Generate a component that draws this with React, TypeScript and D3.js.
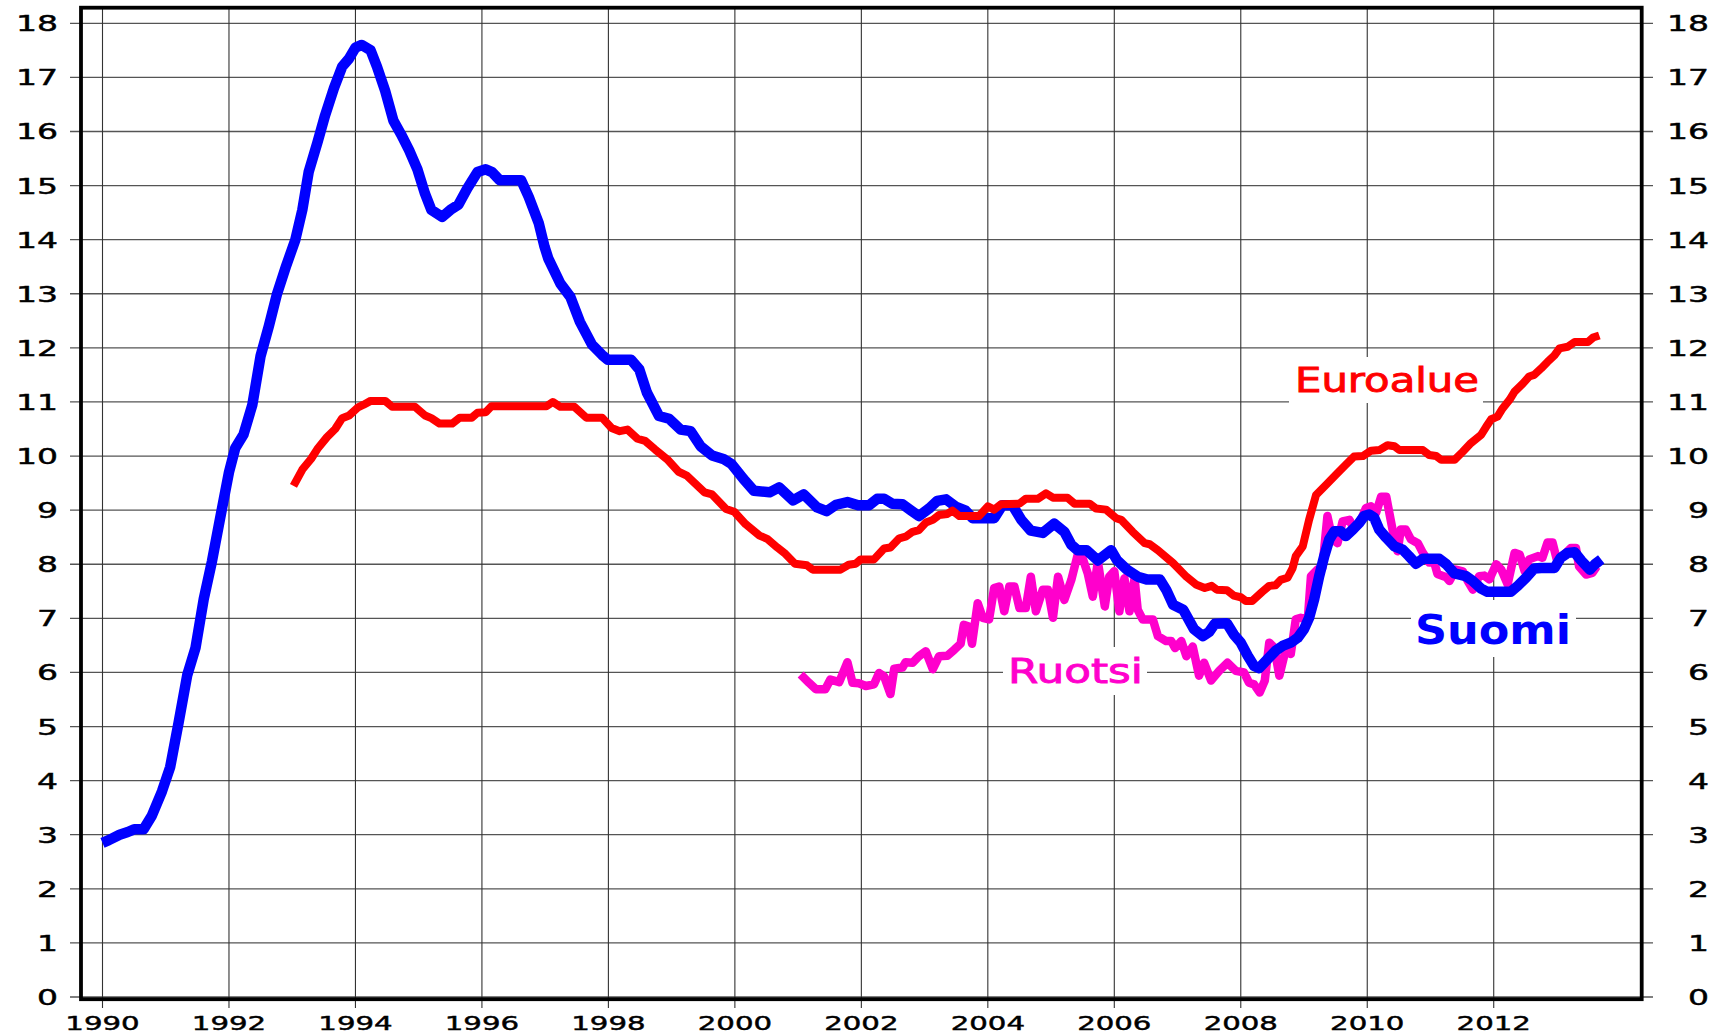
import React from "react";
import * as d3 from "d3";

// ---- data (year, value) ----
const suomi: [number, number][] = [
  [1990.0, 2.85], [1990.1, 2.9], [1990.27, 3.0], [1990.4, 3.05], [1990.5, 3.1], [1990.65, 3.1],
  [1990.78, 3.35], [1990.94, 3.8], [1991.07, 4.25], [1991.2, 5.05], [1991.34, 5.95], [1991.47, 6.45],
  [1991.6, 7.35], [1991.73, 8.05], [1991.86, 8.85], [1992.0, 9.7], [1992.1, 10.15], [1992.23, 10.4],
  [1992.37, 10.95], [1992.5, 11.85], [1992.63, 12.4], [1992.76, 13.0], [1992.9, 13.5], [1993.05, 14.0],
  [1993.16, 14.55], [1993.26, 15.25], [1993.4, 15.8], [1993.52, 16.3], [1993.66, 16.8], [1993.79, 17.2],
  [1993.9, 17.35], [1994.0, 17.55], [1994.1, 17.6], [1994.24, 17.5], [1994.34, 17.2], [1994.47, 16.75],
  [1994.6, 16.2], [1994.72, 15.95], [1994.85, 15.65], [1994.98, 15.3], [1995.1, 14.85], [1995.2, 14.55],
  [1995.37, 14.42], [1995.5, 14.55], [1995.63, 14.65], [1995.77, 14.95], [1995.93, 15.25], [1996.06, 15.3],
  [1996.16, 15.25], [1996.28, 15.1], [1996.62, 15.1], [1996.74, 14.79], [1996.9, 14.3], [1996.99, 13.87],
  [1997.05, 13.65], [1997.24, 13.19], [1997.4, 12.94], [1997.55, 12.48], [1997.74, 12.06], [1997.9, 11.87],
  [1997.99, 11.78], [1998.36, 11.78], [1998.49, 11.6], [1998.61, 11.17], [1998.8, 10.74], [1998.96, 10.69],
  [1999.14, 10.49], [1999.3, 10.46], [1999.46, 10.18], [1999.64, 10.01], [1999.83, 9.94], [1999.95, 9.85],
  [2000.14, 9.57], [2000.3, 9.36], [2000.55, 9.33], [2000.7, 9.42], [2000.92, 9.18], [2001.09, 9.29],
  [2001.3, 9.05], [2001.45, 8.98], [2001.6, 9.1], [2001.78, 9.15], [2001.95, 9.09], [2002.12, 9.09],
  [2002.25, 9.21], [2002.36, 9.21], [2002.49, 9.12], [2002.65, 9.11], [2002.78, 9.0], [2002.91, 8.89],
  [2003.07, 9.03], [2003.2, 9.17], [2003.34, 9.2], [2003.5, 9.06], [2003.65, 8.99], [2003.76, 8.85],
  [2004.1, 8.85], [2004.23, 9.09], [2004.39, 9.09], [2004.53, 8.82], [2004.68, 8.62], [2004.87, 8.58],
  [2005.05, 8.75], [2005.21, 8.6], [2005.32, 8.36], [2005.42, 8.26], [2005.56, 8.26], [2005.74, 8.07],
  [2005.95, 8.26], [2006.04, 8.08], [2006.2, 7.9], [2006.37, 7.77], [2006.51, 7.72], [2006.72, 7.72],
  [2006.82, 7.53], [2006.93, 7.25], [2007.09, 7.16], [2007.26, 6.8], [2007.4, 6.67], [2007.5, 6.75],
  [2007.59, 6.9], [2007.78, 6.91], [2007.89, 6.7], [2008.0, 6.55], [2008.11, 6.31], [2008.21, 6.12],
  [2008.29, 6.08], [2008.42, 6.24], [2008.55, 6.4], [2008.66, 6.49], [2008.79, 6.55], [2008.9, 6.64],
  [2009.0, 6.8], [2009.08, 7.01], [2009.16, 7.35], [2009.24, 7.78], [2009.32, 8.15], [2009.4, 8.46],
  [2009.48, 8.61], [2009.58, 8.61], [2009.66, 8.52], [2009.77, 8.64], [2009.87, 8.76], [2009.95, 8.89],
  [2010.03, 8.92], [2010.11, 8.86], [2010.19, 8.64], [2010.3, 8.49], [2010.43, 8.33], [2010.56, 8.27],
  [2010.66, 8.15], [2010.77, 8.01], [2010.88, 8.1], [2011.14, 8.1], [2011.25, 8.0], [2011.38, 7.83],
  [2011.56, 7.78], [2011.67, 7.69], [2011.8, 7.55], [2011.9, 7.49], [2012.27, 7.49], [2012.38, 7.6],
  [2012.51, 7.75], [2012.64, 7.92], [2012.75, 7.93], [2012.96, 7.93], [2013.06, 8.12], [2013.17, 8.21],
  [2013.28, 8.22], [2013.39, 8.06], [2013.52, 7.9], [2013.6, 8.0], [2013.7, 8.09],
];

const euroalue: [number, number][] = [
  [1993.02, 9.45], [1993.16, 9.75], [1993.3, 9.95], [1993.41, 10.15], [1993.55, 10.35], [1993.68, 10.5],
  [1993.79, 10.7], [1993.9, 10.75], [1994.04, 10.9], [1994.13, 10.95], [1994.24, 11.02], [1994.47, 11.02],
  [1994.58, 10.91], [1994.94, 10.91], [1995.1, 10.75], [1995.2, 10.7], [1995.33, 10.6], [1995.53, 10.6],
  [1995.65, 10.71], [1995.84, 10.71], [1995.93, 10.8], [1996.06, 10.81], [1996.15, 10.92], [1997.02, 10.92],
  [1997.12, 11.0], [1997.24, 10.91], [1997.46, 10.91], [1997.65, 10.71], [1997.9, 10.71], [1998.05, 10.52],
  [1998.18, 10.46], [1998.3, 10.49], [1998.46, 10.32], [1998.58, 10.28], [1998.74, 10.12], [1998.93, 9.94],
  [1999.11, 9.71], [1999.24, 9.64], [1999.52, 9.33], [1999.64, 9.29], [1999.86, 9.02], [1999.99, 8.97],
  [2000.17, 8.74], [2000.39, 8.53], [2000.51, 8.47], [2000.67, 8.31], [2000.8, 8.19], [2000.95, 8.01],
  [2001.14, 7.98], [2001.23, 7.9], [2001.67, 7.9], [2001.8, 7.99], [2001.91, 8.01], [2001.99, 8.09],
  [2002.2, 8.09], [2002.36, 8.29], [2002.46, 8.31], [2002.6, 8.48], [2002.7, 8.51], [2002.81, 8.6],
  [2002.91, 8.63], [2003.02, 8.77], [2003.13, 8.82], [2003.23, 8.91], [2003.36, 8.93], [2003.44, 8.99],
  [2003.55, 8.89], [2003.86, 8.89], [2004.0, 9.07], [2004.1, 9.01], [2004.21, 9.11], [2004.5, 9.12],
  [2004.6, 9.21], [2004.79, 9.21], [2004.92, 9.31], [2005.03, 9.23], [2005.26, 9.23], [2005.37, 9.12],
  [2005.61, 9.12], [2005.71, 9.03], [2005.87, 9.01], [2006.03, 8.85], [2006.11, 8.82], [2006.29, 8.6],
  [2006.48, 8.39], [2006.56, 8.37], [2006.69, 8.26], [2006.93, 8.02], [2007.14, 7.77], [2007.3, 7.62],
  [2007.43, 7.56], [2007.54, 7.6], [2007.62, 7.53], [2007.78, 7.52], [2007.89, 7.42], [2008.0, 7.39],
  [2008.08, 7.32], [2008.18, 7.32], [2008.34, 7.49], [2008.45, 7.6], [2008.55, 7.61], [2008.63, 7.71],
  [2008.74, 7.75], [2008.82, 7.93], [2008.87, 8.15], [2008.98, 8.33], [2009.08, 8.82], [2009.19, 9.28],
  [2009.35, 9.47], [2009.5, 9.65], [2009.66, 9.84], [2009.79, 9.99], [2009.93, 10.0], [2010.06, 10.1],
  [2010.19, 10.11], [2010.32, 10.2], [2010.43, 10.18], [2010.51, 10.11], [2010.88, 10.11], [2010.98, 10.02],
  [2011.09, 10.0], [2011.17, 9.93], [2011.38, 9.93], [2011.51, 10.08], [2011.64, 10.24], [2011.8, 10.39],
  [2011.88, 10.54], [2011.96, 10.68], [2012.06, 10.73], [2012.14, 10.88], [2012.25, 11.04], [2012.33, 11.19],
  [2012.46, 11.34], [2012.56, 11.47], [2012.64, 11.5], [2012.75, 11.62], [2012.85, 11.74], [2012.96, 11.86],
  [2013.04, 11.99], [2013.17, 12.02], [2013.28, 12.11], [2013.49, 12.11], [2013.57, 12.19], [2013.67, 12.23],
];

const ruotsi: [number, number][] = [
  [2001.04, 5.96], [2001.17, 5.81], [2001.28, 5.69], [2001.43, 5.69], [2001.51, 5.87], [2001.65, 5.82],
  [2001.78, 6.19], [2001.86, 5.81], [2001.96, 5.8], [2002.07, 5.75], [2002.2, 5.78], [2002.28, 5.99],
  [2002.36, 5.93], [2002.46, 5.6], [2002.52, 6.07], [2002.65, 6.09], [2002.7, 6.19], [2002.81, 6.18],
  [2002.91, 6.3], [2003.02, 6.39], [2003.13, 6.06], [2003.23, 6.3], [2003.36, 6.31], [2003.47, 6.42],
  [2003.57, 6.53], [2003.62, 6.88], [2003.7, 6.85], [2003.75, 6.53], [2003.84, 7.28], [2003.92, 7.01],
  [2004.02, 6.98], [2004.1, 7.56], [2004.18, 7.59], [2004.26, 7.13], [2004.34, 7.59], [2004.42, 7.59],
  [2004.5, 7.19], [2004.6, 7.19], [2004.68, 7.77], [2004.76, 7.13], [2004.87, 7.53], [2004.95, 7.53],
  [2005.03, 7.01], [2005.11, 7.77], [2005.21, 7.34], [2005.32, 7.71], [2005.42, 8.17], [2005.5, 8.11],
  [2005.58, 7.83], [2005.66, 7.4], [2005.74, 8.05], [2005.85, 7.22], [2005.92, 7.77], [2006.0, 7.87],
  [2006.08, 7.13], [2006.16, 7.74], [2006.24, 7.13], [2006.32, 7.74], [2006.37, 7.16], [2006.45, 6.98],
  [2006.61, 6.98], [2006.69, 6.67], [2006.82, 6.58], [2006.9, 6.58], [2006.96, 6.45], [2007.06, 6.58],
  [2007.14, 6.3], [2007.24, 6.48], [2007.34, 5.94], [2007.42, 6.18], [2007.53, 5.85], [2007.66, 6.03],
  [2007.79, 6.18], [2007.92, 6.03], [2008.05, 6.0], [2008.13, 5.81], [2008.21, 5.78], [2008.3, 5.63],
  [2008.38, 5.85], [2008.45, 6.55], [2008.53, 6.46], [2008.61, 5.94], [2008.71, 6.42], [2008.79, 6.34],
  [2008.87, 6.98], [2008.95, 7.01], [2009.06, 6.98], [2009.11, 7.78], [2009.21, 7.9], [2009.29, 7.93],
  [2009.37, 8.89], [2009.45, 8.46], [2009.53, 8.39], [2009.61, 8.79], [2009.72, 8.82], [2009.79, 8.64],
  [2009.9, 8.82], [2009.98, 9.04], [2010.06, 9.07], [2010.14, 8.95], [2010.22, 9.25], [2010.3, 9.25],
  [2010.4, 8.64], [2010.48, 8.24], [2010.53, 8.64], [2010.61, 8.64], [2010.69, 8.46], [2010.8, 8.39],
  [2010.88, 8.21], [2010.98, 8.03], [2011.06, 8.03], [2011.11, 7.82], [2011.25, 7.76], [2011.3, 7.69],
  [2011.4, 7.9], [2011.51, 7.87], [2011.59, 7.69], [2011.67, 7.53], [2011.77, 7.78], [2011.85, 7.79],
  [2011.93, 7.72], [2012.04, 8.0], [2012.12, 7.9], [2012.22, 7.63], [2012.33, 8.21], [2012.41, 8.18],
  [2012.49, 7.87], [2012.56, 8.09], [2012.7, 8.15], [2012.77, 8.12], [2012.85, 8.4], [2012.93, 8.4],
  [2013.01, 8.03], [2013.09, 8.15], [2013.22, 8.3], [2013.3, 8.3], [2013.35, 7.96], [2013.46, 7.81],
  [2013.56, 7.84], [2013.63, 7.96],
];

const yTicks = d3.range(0, 19);
const xTicks = d3.range(1990, 2014, 2);

const FONT = "'DejaVu Sans', sans-serif";

export default function App() {
  const W = 1724, H = 1034;
  const left = 81, right = 1641.7, top = 7.7, bottom = 999.2;
  const x = d3.scaleLinear().domain([1989.66, 2014.34]).range([left, right]);
  const y = d3.scaleLinear().domain([0, 18]).range([997, 23.3]);
  const line = d3.line<[number, number]>().x(d => x(d[0])).y(d => y(d[1])).curve(d3.curveLinear);

  const digitScale = 1.5;
  const tickTextStyle = { stroke: "#000", strokeWidth: 0.45 };

  return (
    <svg width={W} height={H} style={{ position: "absolute", left: 0, top: 0, background: "#fff" }}>
      <rect x={0} y={0} width={W} height={H} fill="#fff" />
      {/* grid */}
      {yTicks.map(v => (
        <line key={"h" + v} x1={70} x2={1653} y1={y(v)} y2={y(v)} stroke="#555" strokeWidth={1.3} />
      ))}
      {xTicks.map(t => (
        <line key={"v" + t} x1={x(t)} x2={x(t)} y1={top} y2={1008} stroke="#333" strokeWidth={1.1} />
      ))}
      {/* y labels left */}
      {yTicks.map(v => (
        <text key={"yl" + v} transform={`translate(58,${y(v) + 8}) scale(${digitScale},1)`}
          textAnchor="end" fontFamily={FONT} fontSize={22} fill="#000" style={tickTextStyle}>{v}</text>
      ))}
      {/* y labels right */}
      {yTicks.map(v => (
        <text key={"yr" + v} transform={`translate(1709,${y(v) + 8}) scale(${digitScale},1)`}
          textAnchor="end" fontFamily={FONT} fontSize={22} fill="#000" style={tickTextStyle}>{v}</text>
      ))}
      {/* x labels */}
      {xTicks.map(t => (
        <text key={"xl" + t} transform={`translate(${x(t)},1030) scale(1.46,1)`}
          textAnchor="middle" fontFamily={FONT} fontSize={20} fill="#000" style={tickTextStyle}>{t}</text>
      ))}
      {/* label backgrounds */}
      <rect x={1289} y={357} width={194} height={46} fill="#fff" />
      <rect x={1411} y={600} width={165} height={57} fill="#fff" />
      <rect x={1003} y={647} width={144} height={48} fill="#fff" />
      {/* series */}
      <path d={line(ruotsi) ?? ""} fill="none" stroke="#FF00CC" strokeWidth={8.5} strokeLinejoin="round" strokeLinecap="butt" />
      <path d={line(suomi) ?? ""} fill="none" stroke="#0000FF" strokeWidth={10.5} strokeLinejoin="round" strokeLinecap="butt" />
      <path d={line(euroalue) ?? ""} fill="none" stroke="#FF0000" strokeWidth={8} strokeLinejoin="round" strokeLinecap="butt" />
      {/* series labels */}
      <text x={1295} y={392} fontFamily={FONT} fontSize={33} fill="#FF0000" stroke="#FF0000" strokeWidth={0.9} textLength={184} lengthAdjust="spacingAndGlyphs">Euroalue</text>
      <text x={1415} y={644} fontFamily={FONT} fontWeight="bold" fontSize={40} fill="#0000FF" textLength={156} lengthAdjust="spacingAndGlyphs">Suomi</text>
      <text x={1008} y={683} fontFamily={FONT} fontSize={34} fill="#FF00CC" stroke="#FF00CC" strokeWidth={0.9} textLength={135} lengthAdjust="spacingAndGlyphs">Ruotsi</text>
      {/* frame */}
      <rect x={left} y={top} width={right - left} height={bottom - top} fill="none" stroke="#000" strokeWidth={3.8} />
    </svg>
  );
}
